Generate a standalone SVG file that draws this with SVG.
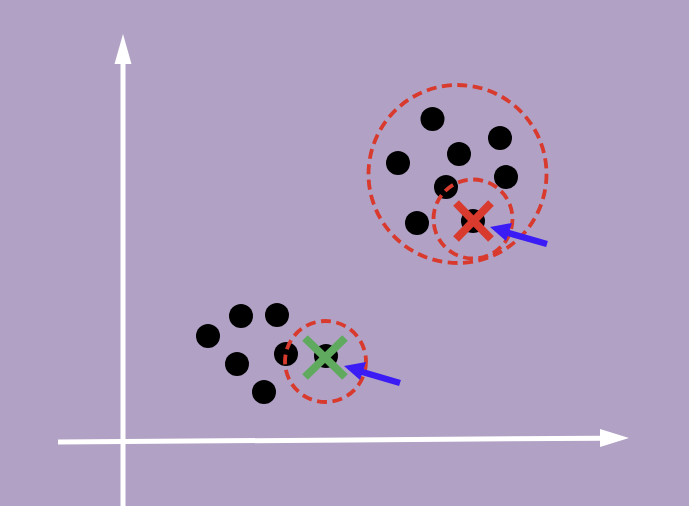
<svg xmlns="http://www.w3.org/2000/svg" width="689" height="506" viewBox="0 0 689 506">
<style>
.axis{stroke:#ffffff;stroke-width:5;fill:none}
.dot{fill:#000000}
.ring{fill:none;stroke:#d93a2e;stroke-width:3.8;stroke-dasharray:10 5.5}
.xr{stroke:#d93a2e;stroke-width:8;stroke-linecap:butt}
.xg{stroke:#5faa5f;stroke-width:8;stroke-linecap:butt}
.ptr{stroke:#3b1cf5;stroke-width:6.5;fill:none}
.ptrhead{fill:#3b1cf5}
</style>
<rect width="689" height="506" fill="#b1a2c5"/>
<g id="axes">
<line class="axis" x1="123" y1="506" x2="123" y2="60"/>
<polygon points="123,34 114.5,64 131.5,64" fill="#ffffff"/>
<line class="axis" x1="58" y1="442" x2="603" y2="438.2"/>
<polygon points="629,438 600,429 600,447" fill="#ffffff"/>
</g>
<g id="cluster-top">
<circle class="dot" cx="432.5" cy="119" r="12"/>
<circle class="dot" cx="500" cy="138" r="12"/>
<circle class="dot" cx="459" cy="154" r="12"/>
<circle class="dot" cx="398" cy="163" r="12"/>
<circle class="dot" cx="506" cy="177" r="12"/>
<circle class="dot" cx="446" cy="187" r="12"/>
<circle class="dot" cx="417" cy="223" r="12"/>
<circle class="dot" cx="473" cy="221" r="12"/>
<circle class="ring" cx="457.5" cy="174" r="89"/>
<circle class="ring" cx="473" cy="219" r="39.5"/>
<line class="xr" x1="456" y1="203" x2="491" y2="239"/>
<line class="xr" x1="491" y1="203" x2="456" y2="239"/>
</g>
<g id="cluster-bottom">
<circle class="dot" cx="241" cy="316" r="12"/>
<circle class="dot" cx="277" cy="315" r="12"/>
<circle class="dot" cx="208" cy="336" r="12"/>
<circle class="dot" cx="286" cy="354" r="12"/>
<circle class="dot" cx="237" cy="364" r="12"/>
<circle class="dot" cx="264" cy="392" r="12"/>
<circle class="dot" cx="326" cy="356" r="12"/>
<circle class="ring" cx="325.5" cy="361.5" r="40.5"/>
<line class="xg" x1="305" y1="338" x2="345" y2="377"/>
<line class="xg" x1="345" y1="338" x2="305" y2="377"/>
</g>
<g id="connectors">
<line class="ptr" x1="547" y1="244" x2="505" y2="232"/>
<polygon class="ptrhead" points="490,227 512,223 506,241"/>
<line class="ptr" x1="400" y1="383" x2="359" y2="371"/>
<polygon class="ptrhead" points="344,366 366,362 360,380"/>
</g>
</svg>
